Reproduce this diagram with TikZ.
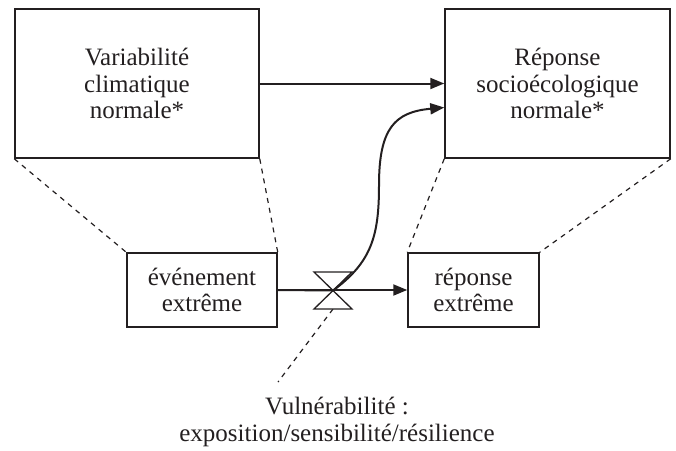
\documentclass[tikz,border=0pt]{standalone}
\usepackage{fontspec}
\setmainfont{Liberation Serif}
\usetikzlibrary{arrows.meta,calc}
\definecolor{ink}{RGB}{35,31,32}
\begin{document}
\begin{tikzpicture}[x=1pt,y=-1pt,
  every node/.style={font=\fontsize{25}{26.8}\selectfont, text=ink},
  bigbox/.style={draw=ink, line width=1.5pt, minimum height=149pt, align=center, inner sep=0pt},
  smallbox/.style={draw=ink, line width=1.5pt, minimum height=74pt, align=center, inner sep=0pt},
  flow/.style={draw=ink, line width=2pt, -{Triangle[length=14pt,width=11pt]}},
  guide/.style={draw=ink, line width=1.2pt, dash pattern=on 5pt off 5pt},
  valveshape/.style={draw=ink, line width=1.3pt, fill=white}]
\useasboundingbox (0,0) rectangle (676,450);

\node[bigbox, minimum width=244pt] (v1) at (137,83.5) {Variabilité\\climatique\\normale*};
\node[bigbox, minimum width=225pt] (v2) at (557.5,83.5) {Réponse\\socioécologique\\normale*};
\node[smallbox, minimum width=150pt] (e1) at (202,290) {événement\\extrême};
\node[smallbox, minimum width=131pt] (e2) at (473.5,290) {réponse\\extrême};
\coordinate (valve) at (333,290.5);
\coordinate (vbot) at (333,309);
\coordinate (vend) at (278,382);
\node[align=center] (vul) at (337,422) {Vulnérabilité :\\exposition/sensibilité/résilience};

% dashed guides
\draw[guide] (v1.south west) -- (e1.north west);
\draw[guide] (v1.south east) -- (e1.north east);
\draw[guide] (v2.south west) -- (e2.north west);
\draw[guide] (v2.south east) -- (e2.north east);
\draw[guide] (vbot) -- (vend);

% flows
\draw[flow] (v1.east) -- (v2.west);
\draw[flow] (e1.east) -- (e2.west);

% valve
\draw[valveshape] ($(valve)+(-19,-18.5)$) -- ($(valve)+(19,-18.5)$) -- (valve) -- cycle;
\draw[valveshape] ($(valve)+(-19,18.5)$) -- ($(valve)+(19,18.5)$) -- (valve) -- cycle;
\draw[draw=ink, line width=2pt] (e1.east) -- (valve);

% curved flow
\draw[flow] (valve) .. controls (372,262) and (379,235) .. (379,185) .. controls (379,128) and (395,112) .. ($(v2.west)+(0,24)$);
\end{tikzpicture}
\end{document}
